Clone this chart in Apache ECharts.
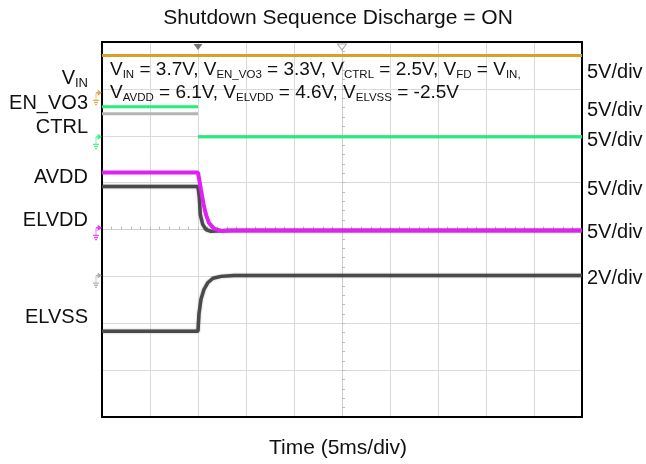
<!DOCTYPE html>
<html>
<head>
<meta charset="utf-8">
<script src="https://cdn.jsdelivr.net/npm/echarts@6/dist/echarts.min.js"></script>
<style>
  html, body { margin: 0; padding: 0; background: #fff; }
  #chart { width: 646px; height: 464px; }
</style>
</head>
<body>
<div id="chart"></div>
<script>
// time in ms (0 = screen centre, 5ms/div), levels in screen divisions (0 = centre)
const vinTrace = [[-25, 3.71], [25, 3.71]];
const ctrlTrace = [[-25, 2.47], [-15, 2.47], [-15, null], [-15, 1.98], [25, 1.98]];
const enVo3Trace = [[-25, 2.62], [-15, 2.62], [-15, null], [-15, 1.98], [25, 1.98]];
const avddTrace = [
  [-25, 1.215], [-15, 1.215], [-14.9, 1.18], [-14.69, 0.85], [-14.41, 0.53],
  [-14.17, 0.32], [-13.86, 0.14], [-13.34, 0.02], [-12.6, -0.03], [-11.4, -0.02], [25, -0.02]
];
const elvddTrace = [
  [-25, 0.917], [-15, 0.917], [-14.86, 0.68], [-14.76, 0.32], [-14.51, 0.11],
  [-14.17, 0.0], [-13.65, -0.04], [-12.0, -0.02], [25, -0.02]
];
const elvssTrace = [
  [-25, -2.17], [-15, -2.17], [-14.9, -1.8], [-14.69, -1.49], [-14.38, -1.28],
  [-13.96, -1.13], [-13.44, -1.04], [-12.6, -1.0], [-11.26, -0.98], [25, -0.98]
];
// ground reference markers: [time, level]
const gndGold = [[-25, 2.92]];
const gndGreen = [[-25, 1.98]];
const gndMagenta = [[-25, 0.04]];
const gndGray = [[-25, -0.98]];
const triggerMarks = [[-15, 4]];
const centreMarks = [[0, 4]];

const leftLabels = [
  { text: '{m|V}{s|IN}', y: 78 },
  { text: '{m|EN_VO3}', y: 103 },
  { text: '{m|CTRL}', y: 127 },
  { text: '{m|AVDD}', y: 177 },
  { text: '{m|ELVDD}', y: 220 },
  { text: '{m|ELVSS}', y: 317 }
];
const scaleLabels = [
  { text: '5V/div', y: 72 },
  { text: '5V/div', y: 110 },
  { text: '5V/div', y: 140 },
  { text: '5V/div', y: 189 },
  { text: '5V/div', y: 232 },
  { text: '2V/div', y: 278 }
];
const noteLine1 = '{m|V}{s|IN}{m| = 3.7V, V}{s|EN_VO3}{m| = 3.3V, V}{s|CTRL}{m| = 2.5V, V}{s|FD}{m| = V}{s|IN,}';
const noteLine2 = '{m|V}{s|AVDD}{m| = 6.1V, V}{s|ELVDD}{m| = 4.6V, V}{s|ELVSS}{m| = -2.5V}';

const FONT = 'Liberation Sans, Arial, sans-serif';
const gndPath = 'path://M5,0 L8,2 L5,4 Z M3,2 L5,2 M3,2 L3,9 M0,9 L6,9 M1,11 L5,11 M2,13 L4,13';

function traceSeries(data, color, width, extra) {
  return Object.assign({
    type: 'line',
    data: data,
    showSymbol: false,
    connectNulls: false,
    animation: false,
    silent: true,
    lineStyle: { color: color, width: width }
  }, extra || {});
}

function gndSeries(data, color) {
  return {
    type: 'scatter',
    data: data,
    symbol: gndPath,
    symbolSize: [8, 14],
    symbolOffset: [-5, 5],
    clip: false,
    animation: false,
    silent: true,
    itemStyle: { color: color, borderColor: color, borderWidth: 1 },
    z: 5
  };
}

let chart = echarts.init(document.getElementById('chart'));

let graphics = [];
graphics.push({
  type: 'text', x: 338, y: 18,
  style: { text: 'Shutdown Sequence Discharge = ON', font: '21px ' + FONT, fill: '#111', align: 'center', verticalAlign: 'middle' }
});
graphics.push({
  type: 'text', x: 338, y: 448,
  style: { text: 'Time (5ms/div)', font: '21px ' + FONT, fill: '#111', align: 'center', verticalAlign: 'middle' }
});
leftLabels.forEach(function (l) {
  graphics.push({
    type: 'text', x: 88, y: l.y,
    style: {
      text: l.text, align: 'right', verticalAlign: 'middle', fill: '#111',
      rich: {
        m: { fontSize: 20, fontFamily: FONT, lineHeight: 24, fill: '#111' },
        s: { fontSize: 13, fontFamily: FONT, lineHeight: 13, verticalAlign: 'bottom', fill: '#111' }
      }
    }
  });
});
scaleLabels.forEach(function (l) {
  graphics.push({
    type: 'text', x: 587, y: l.y,
    style: { text: l.text, font: '20px ' + FONT, fill: '#111', align: 'left', verticalAlign: 'middle' }
  });
});
[[noteLine1, 70], [noteLine2, 93]].forEach(function (n) {
  graphics.push({
    type: 'text', x: 110, y: n[1], z: 10,
    style: {
      text: n[0], align: 'left', verticalAlign: 'middle', fill: '#111',
      rich: {
        m: { fontSize: 19, fontFamily: FONT, lineHeight: 22, fill: '#111' },
        s: { fontSize: 11.5, fontFamily: FONT, lineHeight: 12, verticalAlign: 'bottom', fill: '#111' }
      }
    }
  });
});

let option = {
  backgroundColor: '#fff',
  animation: false,
  grid: {
    left: 102, right: 64, top: 42, bottom: 47,
    show: true, borderColor: '#000', borderWidth: 2, backgroundColor: 'transparent', z: 3
  },
  xAxis: {
    type: 'value', min: -25, max: 25, interval: 5,
    axisLine: { show: true, onZero: true, lineStyle: { color: '#cfcfcf', width: 1 } },
    axisTick: { show: true, inside: true, length: 3, lineStyle: { color: '#bbb' } },
    minorTick: { show: true, splitNumber: 5, length: 3, lineStyle: { color: '#bbb' } },
    axisLabel: { show: false },
    splitLine: { show: true, lineStyle: { color: '#dadada', width: 1 } }
  },
  yAxis: {
    type: 'value', min: -4, max: 4, interval: 1,
    axisLine: { show: true, onZero: true, lineStyle: { color: '#cfcfcf', width: 1 } },
    axisTick: { show: true, inside: true, length: 3, lineStyle: { color: '#bbb' } },
    minorTick: { show: true, splitNumber: 5, length: 3, lineStyle: { color: '#bbb' } },
    axisLabel: { show: false },
    splitLine: { show: true, lineStyle: { color: '#dadada', width: 1 } }
  },
  graphic: graphics,
  series: [
    traceSeries(vinTrace, '#d4a12a', 3),
    traceSeries(ctrlTrace, '#b4b4b4', 3),
    traceSeries(enVo3Trace, '#22ee7a', 3),
    traceSeries(elvddTrace, '#4a4a4a', 3.5, { lineStyle: { color: '#4a4a4a', width: 3.5, shadowColor: 'rgba(0,0,0,0.35)', shadowBlur: 2 } }),
    traceSeries(avddTrace, '#e020f5', 4),
    traceSeries(elvssTrace, '#4a4a4a', 3.5, { lineStyle: { color: '#4a4a4a', width: 3.5, shadowColor: 'rgba(0,0,0,0.35)', shadowBlur: 2 } }),
    gndSeries(gndGold, '#d4a12a'),
    gndSeries(gndGreen, '#22ee7a'),
    gndSeries(gndMagenta, '#e020f5'),
    gndSeries(gndGray, '#a0a0a0'),
    {
      type: 'scatter', data: triggerMarks, symbol: 'triangle', symbolRotate: 180,
      symbolSize: [9, 6], symbolOffset: [0, 5], clip: false, animation: false, silent: true,
      itemStyle: { color: '#555' }, z: 6
    },
    {
      type: 'scatter', data: centreMarks, symbol: 'triangle', symbolRotate: 180,
      symbolSize: [9, 6], symbolOffset: [0, 5], clip: false, animation: false, silent: true,
      itemStyle: { color: '#fff', borderColor: '#999', borderWidth: 1 }, z: 6
    }
  ]
};

chart.setOption(option);
</script>
</body>
</html>
